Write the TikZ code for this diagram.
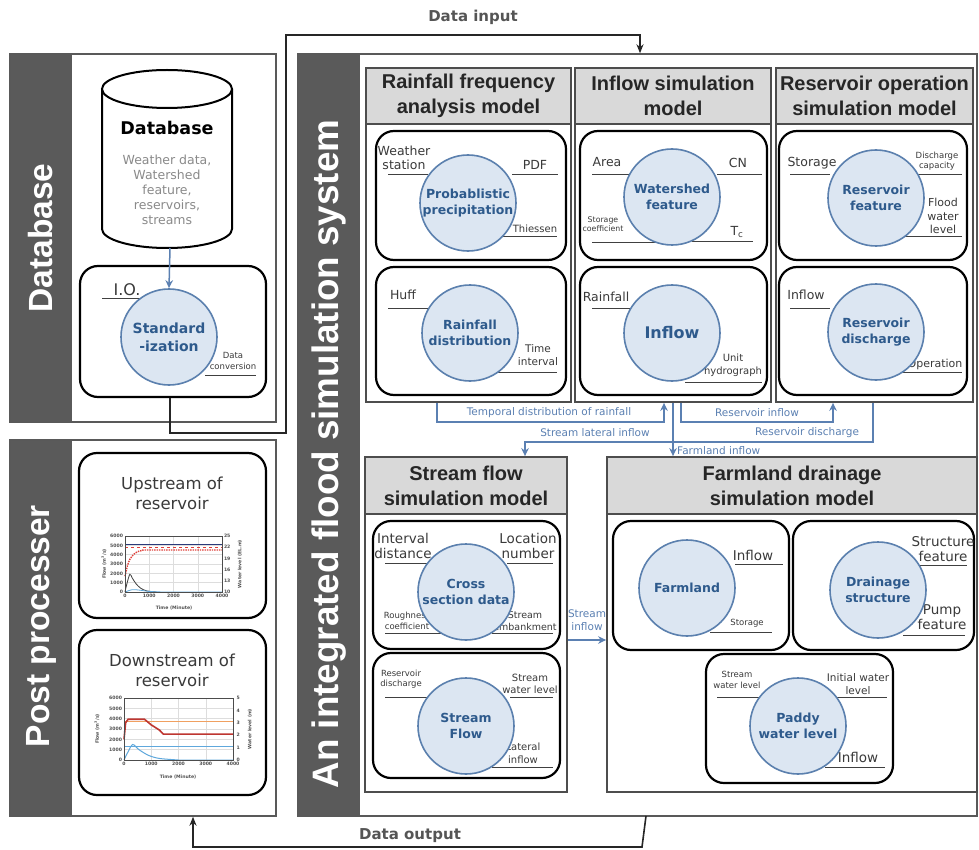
\documentclass[tikz,border=0pt]{standalone}
\usepackage{fontspec}
\setmainfont{Liberation Sans}
\newfontfamily\dv{DejaVu Sans}
\usetikzlibrary{arrows.meta,calc}
\definecolor{stripgray}{HTML}{5A5A5A}
\definecolor{panelline}{HTML}{595959}
\definecolor{coldark}{HTML}{4D4D4D}
\definecolor{hdrgray}{HTML}{D9D9D9}
\definecolor{hdrtext}{HTML}{262626}
\definecolor{circfill}{HTML}{DCE6F2}
\definecolor{circdraw}{HTML}{5B80AE}
\definecolor{circtext}{HTML}{2E5A8C}
\definecolor{labtext}{HTML}{3A3A3A}
\definecolor{ulcol}{HTML}{404040}
\definecolor{flowblue}{HTML}{5B80B2}
\definecolor{dataio}{HTML}{555555}
\definecolor{dbgray}{HTML}{8A8A8A}
\definecolor{tickcol}{HTML}{505050}
\definecolor{gridc}{HTML}{DDDDDD}
\definecolor{navyc}{HTML}{2B3A7A}
\definecolor{redc}{HTML}{E0403A}
\definecolor{lblue}{HTML}{5FA8DC}
\definecolor{orangec}{HTML}{F0A060}
\begin{document}
\begin{tikzpicture}[x=1pt,y=-1pt]
\tikzset{
 panel/.style={draw=panelline, line width=1.4pt, inner sep=0pt},
 colbox/.style={draw=coldark, line width=1.8pt, fill=white, inner sep=0pt},
 hdr/.style={draw=coldark, line width=1.8pt, fill=hdrgray, inner sep=0pt, align=center, text=hdrtext, font=\bfseries\fontsize{20}{25}\selectfont},
 rbox/.style={draw=black, line width=2.2pt, rounded corners=18pt, inner sep=0pt},
 circ/.style={circle, draw=circdraw, fill=circfill, line width=1.6pt, minimum size=96pt, inner sep=0pt, align=center, text=circtext, font=\dv\bfseries\fontsize{12.5}{15.5}\selectfont},
 circL/.style={circ, font=\dv\bfseries\fontsize{14}{18}\selectfont},
 lab/.style={align=center, text=labtext, inner sep=0pt, font=\dv\fontsize{12.5}{14.5}\selectfont},
 labm/.style={lab, font=\dv\fontsize{13.5}{15.5}\selectfont},
 labs/.style={lab, font=\dv\fontsize{10.5}{12.5}\selectfont},
 labt/.style={lab, font=\dv\fontsize{8.5}{10.5}\selectfont},
 ul/.style={draw=ulcol, line width=1pt},
 flow/.style={draw=flowblue, line width=1.8pt, -{Stealth[length=8pt,width=7.5pt]}},
 flowlab/.style={text=flowblue, inner sep=0pt, align=center, font=\dv\fontsize{10.5}{12.5}\selectfont},
 blk/.style={draw=black!85, line width=1.6pt, -{Stealth[length=9pt,width=7pt]}},
 vtitle/.style={rotate=90, text=white, inner sep=0pt, font=\bfseries\fontsize{33.5}{36}\selectfont},
 io/.style={text=dataio, inner sep=0pt, font=\dv\bfseries\fontsize{15}{18}\selectfont},
 tick/.style={text=tickcol, inner sep=0.3pt, font=\dv\bfseries\fontsize{4.6}{5}\selectfont},
 ptitle/.style={align=center, text=labtext, inner sep=0pt, font=\dv\fontsize{16.5}{20}\selectfont},
}
\useasboundingbox (0,0) rectangle (979,850);
\fill[white] (0,0) rectangle (979,850);

% ---------- left panels ----------
\fill[stripgray] (10,54) rectangle (72,422);
\node[panel, minimum width=266, minimum height=368] (dbp) at (143,238) {};
\node[vtitle] (tdb) at (41,238) {Database};

\fill[stripgray] (10,440) rectangle (72,816);
\node[panel, minimum width=266, minimum height=376] (ppp) at (143,628) {};
\node[vtitle] (tpp) at (41,626) {Post processer};

% ---------- main panel ----------
\fill[stripgray] (298,54) rectangle (360,816);
\node[panel, minimum width=679, minimum height=762] (mainp) at (637.5,435) {};
\node[vtitle, font=\bfseries\fontsize{36.8}{40}\selectfont] (tmain) at (329,454) {An integrated flood simulation system};

% ---------- database cylinder ----------
\draw[line width=2pt, fill=white] (102,89) -- (102,229)
  .. controls (102,239.5) and (131.1,248) .. (167,248)
  .. controls (202.9,248) and (232,239.5) .. (232,229) -- (232,89);
\draw[line width=2pt, fill=white] (167,89) ellipse [x radius=65, y radius=19];
\node[inner sep=0pt, font=\dv\bfseries\fontsize{17.5}{20}\selectfont] (dbt) at (167,128) {Database};
\node[inner sep=0pt, align=center, text=dbgray, font=\dv\fontsize{12.5}{15}\selectfont] (dbg) at (167,190) {Weather data,\\Watershed\\feature,\\reservoirs,\\streams};
\coordinate (dbbot) at (170,248);

% standardization box
\node[rbox, minimum width=186, minimum height=131] (iobox) at (173,331.5) {};
\node[lab, font=\dv\fontsize{16}{18}\selectfont] (lio) at (127,290) {I.O.};
\draw[ul] (102,298) -- (147,298);
\node[labt] (ldc) at (233,361) {Data\\conversion};
\draw[ul] (205,375) -- (256,375);
\node[circL] (std) at (169,337) {Standard\\-ization};
\draw[flow, line width=1.5pt] (dbbot) -- (std.north);

% post processor boxes
\node[rbox, minimum width=187, minimum height=165] (upb) at (172.5,535.5) {};
\node[ptitle] (upt) at (172,493) {Upstream of\\reservoir};
\node[rbox, minimum width=187, minimum height=165] (dnb) at (172.5,712.5) {};
\node[ptitle] (dnt) at (172,670) {Downstream of\\reservoir};

% upstream chart
\draw[gridc, line width=0.4pt] foreach \k in {1,...,5} {(125,{592-\k*56/6}) -- (222,{592-\k*56/6})}
  foreach \k in {1,2,3} {({125+\k*97/4},536) -- ({125+\k*97/4},592)};
\begin{scope}[shift={(125,592)}, xscale=0.02425, yscale=-0.0093333]
\draw[navyc, line width=0.9pt] (0,5050) -- (4000,5050);
\draw[redc, dashed, line width=0.9pt] (0,4800) -- (4000,4800);
\draw[redc, densely dotted, line width=1.4pt] plot[smooth] coordinates {(0,1700) (100,2800) (200,3500) (350,4000) (500,4300) (700,4450) (1000,4500) (4000,4500)};
\draw[black!75, line width=0.8pt] plot[smooth] coordinates {(0,0) (80,900) (200,1900) (300,1500) (450,900) (650,400) (900,120) (1300,0)};
\draw[lblue, line width=0.8pt] plot[smooth] coordinates {(0,0) (300,250) (600,200) (1000,60) (1600,0)} -- (4000,0);
\end{scope}
\draw[black!70, line width=0.6pt] (125,536) rectangle (222,592);
\foreach \k/\v in {0/0,1/1000,2/2000,3/3000,4/4000,5/5000,6/6000}
  \node[tick, anchor=east] (uyl\k) at (123.5,{592-\k*56/6}) {\v};
\foreach \k/\v in {0/10,1/13,2/16,3/19,4/22,5/25}
  \node[tick, anchor=west] (uyr\k) at (223.5,{592-\k*56/5}) {\v};
\foreach \k/\v in {0/0,1/1000,2/2000,3/3000,4/4000}
  \node[tick, anchor=north] (uxt\k) at ({125+\k*97/4},593.5) {\v};
\node[tick, rotate=90] (uya) at (104,564) {Flow (m\textsuperscript{3}/s)};
\node[tick, rotate=90] (uyb) at (240,564) {Water level (EL.m)};
\node[tick] (uxa) at (174,608) {Time (Minute)};

% downstream chart
\draw[gridc, line width=0.4pt] foreach \k in {1,...,5} {(124,{760-\k*62/6}) -- (233,{760-\k*62/6})}
  foreach \k in {1,2,3} {({124+\k*109/4},698) -- ({124+\k*109/4},760)};
\begin{scope}[shift={(124,760)}, xscale=0.02725, yscale=-0.0103333]
\draw[orangec, line width=0.5pt] (0,3800) -- (4000,3800);
\draw[lblue, line width=0.5pt] (0,1300) -- (4000,1300);
\draw[redc!85!black, line width=1.6pt] (0,2000) -- (60,3600) -- (150,3950) -- (750,3950) -- (1000,3400) -- (1300,2900) -- (1450,2500) -- (4000,2500);
\draw[lblue, line width=1pt] plot[smooth] coordinates {(0,0) (150,800) (320,1500) (550,1000) (900,450) (1300,150) (2000,0)} -- (4000,0);
\end{scope}
\draw[black!70, line width=0.6pt] (124,698) rectangle (233,760);
\foreach \k/\v in {0/0,1/1000,2/2000,3/3000,4/4000,5/5000,6/6000}
  \node[tick, anchor=east] (dyl\k) at (122.5,{760-\k*62/6}) {\v};
\foreach \k/\v in {0/0,1/1,2/2,3/3,4/4,5/5}
  \node[tick, anchor=west] (dyr\k) at (236,{760-\k*62/5}) {\v};
\foreach \k/\v in {0/0,1/1000,2/2000,3/3000,4/4000}
  \node[tick, anchor=north] (dxt\k) at ({124+\k*109/4},761.5) {\v};
\node[tick, rotate=90] (dya) at (97,729) {Flow (m\textsuperscript{3}/s)};
\node[tick, rotate=90] (dyb) at (250,729) {Water level (m)};
\node[tick] (dxa) at (178,777) {Time (Minute)};

% ---------- column boxes ----------
\node[colbox, minimum width=205, minimum height=334] (rfcol) at (468.5,235) {};
\node[hdr, minimum width=205, minimum height=56] (rfhdr) at (468.5,96) {Rainfall frequency\\analysis model};
\node[colbox, minimum width=196, minimum height=334] (ifcol) at (673,235) {};
\node[hdr, minimum width=196, minimum height=56] (ifhdr) at (673,96) {Inflow simulation\\model};
\node[colbox, minimum width=197, minimum height=334] (rocol) at (874.5,235) {};
\node[hdr, minimum width=197, minimum height=56] (rohdr) at (874.5,96) {Reservoir operation\\simulation model};
\node[colbox, minimum width=202, minimum height=335] (sfcol) at (466,624.5) {};
\node[hdr, minimum width=202, minimum height=57] (sfhdr) at (466,485.5) {Stream flow\\simulation model};
\node[colbox, minimum width=370, minimum height=335] (fdcol) at (792,624.5) {};
\node[hdr, minimum width=370, minimum height=57] (fdhdr) at (792,485.5) {Farmland drainage\\simulation model};

% ---------- rounded sub boxes ----------
\node[rbox, minimum width=190, minimum height=129] (rf1) at (471,195.5) {};
\node[rbox, minimum width=190, minimum height=128] (rf2) at (471,331) {};
\node[rbox, minimum width=187, minimum height=129] (if1) at (673.5,195.5) {};
\node[rbox, minimum width=187, minimum height=128] (if2) at (673.5,331) {};
\node[rbox, minimum width=188, minimum height=129] (ro1) at (873,195.5) {};
\node[rbox, minimum width=188, minimum height=128] (ro2) at (873,331) {};
\node[rbox, minimum width=187, minimum height=128] (sf1) at (466.5,585) {};
\node[rbox, minimum width=187, minimum height=125] (sf2) at (466.5,715.5) {};
\node[rbox, minimum width=176, minimum height=129] (fl1) at (701,585.5) {};
\node[rbox, minimum width=181, minimum height=129] (ds1) at (883.5,585.5) {};
\node[rbox, minimum width=187, minimum height=129] (pw1) at (799.5,718.5) {};

% ---------- labels and underlines ----------
% rainfall
\node[lab] (lws) at (404,158) {Weather\\station};  \draw[ul] (388,175) -- (428,175);
\node[lab] (lpdf) at (535,165) {PDF};             \draw[ul] (512,175) -- (558,175);
\node[labs, font=\dv\fontsize{10}{12}\selectfont] (lth) at (535,229) {Thiessen}; \draw[ul] (493,237) -- (557,237);
\node[lab] (lhuff) at (403,295) {Huff};           \draw[ul] (388,308) -- (428,308);
\node[labs] (lti) at (538,355) {Time\\interval};  \draw[ul] (493,372) -- (557,372);
% inflow
\node[lab] (lar) at (607,162) {Area};             \draw[ul] (592,175) -- (630,175);
\node[lab] (lcn) at (738,163) {CN};               \draw[ul] (717,175) -- (762,175);
\node[labt, font=\dv\fontsize{7.8}{9.5}\selectfont] (lsc) at (603,224) {Storage\\coefficient}; \draw[ul] (592,243) -- (655,243);
\node[lab] (ltc) at (737,232) {T\textsubscript{c}}; \draw[ul] (692,242) -- (753,242);
\node[lab] (lrain) at (606,297) {Rainfall};       \draw[ul] (592,308) -- (630,308);
\node[labs, font=\dv\fontsize{10}{12.5}\selectfont] (luh) at (733,365) {Unit\\hydrograph}; \draw[ul] (685,382) -- (762,382);
% reservoir
\node[lab] (lst) at (812,163) {Storage};          \draw[ul] (790,175) -- (830,175);
\node[labt] (ldcap) at (937,161) {Discharge\\capacity}; \draw[ul] (913,175) -- (962,175);
\node[labs, font=\dv\fontsize{11}{13.5}\selectfont] (lfwl) at (943,216) {Flood\\water\\level}; \draw[ul] (898,237) -- (962,237);
\node[lab] (lrin) at (806,295) {Inflow};          \draw[ul] (790,308) -- (830,308);
\node[labs, font=\dv\fontsize{11}{13}\selectfont] (lop) at (935,364) {Operation}; \draw[ul] (898,372) -- (962,372);
% stream
\node[labm] (lid) at (403,546) {Interval\\distance}; \draw[ul] (385,563) -- (427,563);
\node[labm] (lln) at (528,546) {Location\\number};   \draw[ul] (507,563) -- (553,563);
\node[labt] (lrc) at (407,621) {Roughness\\coefficient}; \draw[ul] (385,633) -- (447,633);
\node[labt, font=\dv\fontsize{9.5}{11.5}\selectfont] (lse) at (525,621) {Stream\\embankment}; \draw[ul] (492,633) -- (553,633);
\node[labt] (lrd) at (401,679) {Reservoir\\discharge}; \draw[ul] (385,697) -- (427,697);
\node[labs, font=\dv\fontsize{10}{12.5}\selectfont] (lswl) at (530,684) {Stream\\water level}; \draw[ul] (510,697) -- (553,697);
\node[labs, font=\dv\fontsize{10}{13}\selectfont] (lli) at (523,753) {Lateral\\inflow}; \draw[ul] (492,767) -- (553,767);
% farmland
\node[labm] (lfin) at (753,555) {Inflow};          \draw[ul] (735,564) -- (783,564);
\node[labt] (lfst) at (747,623) {Storage};         \draw[ul] (710,632) -- (772,632);
\node[labm] (lsf) at (943,549) {Structure\\feature}; \draw[ul] (920,565) -- (967,565);
\node[labm] (lpf) at (942,617) {Pump\\feature};    \draw[ul] (903,635) -- (965,635);
\node[labt] (lpswl) at (737,680) {Stream\\water level}; \draw[ul] (717,697) -- (760,697);
\node[labs] (liwl) at (858,684) {Initial water\\level}; \draw[ul] (833,697) -- (887,697);
\node[labm] (lpin) at (858,757) {Inflow};          \draw[ul] (825,767) -- (885,767);

% ---------- circles ----------
\node[circ] (pp) at (468,203) {Probablistic\\precipitation};
\node[circ] (rd) at (470,333) {Rainfall\\distribution};
\node[circ] (ws) at (672,197) {Watershed\\feature};
\node[circL, font=\dv\bfseries\fontsize{16}{18}\selectfont] (inf) at (672,333) {Inflow};
\node[circ] (rfe) at (876,198) {Reservoir\\feature};
\node[circ] (rdis) at (876,332) {Reservoir\\discharge};
\node[circ] (cs) at (466,592) {Cross\\section data};
\node[circ] (sfl) at (466,726) {Stream\\Flow};
\node[circ] (fl) at (687,588) {Farmland};
\node[circ] (dst) at (878,590) {Drainage\\structure};
\node[circ] (pwl) at (798,726) {Paddy\\water level};

% ---------- blue flow connectors ----------
\coordinate (tA) at (437,422); \coordinate (tB) at (664,422);
\draw[flow] (rfcol.south -| tA) -- (tA) -- (tB) -- (ifcol.south -| tB);
\node[flowlab] (ltd) at (549,413) {Temporal distribution of rainfall};
\coordinate (fA) at (673,430);
\draw[flow] (ifcol.south -| fA) -- (fdcol.north -| fA);
\node[flowlab, anchor=west] (lfi) at (677,451) {Farmland inflow};
\coordinate (rA) at (681,422); \coordinate (rB) at (833,422);
\draw[flow] (ifcol.south -| rA) -- (rA) -- (rB) -- (rocol.south -| rB);
\node[flowlab] (lri) at (757,413) {Reservoir inflow};
\coordinate (dA) at (873,442); \coordinate (dB) at (525,442);
\draw[flow] (rocol.south -| dA) -- (dA) -- (dB) -- (sfcol.north -| dB);
\node[flowlab] (lrdc) at (807,433) {Reservoir discharge};
\node[flowlab] (lsli) at (595,433) {Stream lateral inflow};
\coordinate (sI) at (590,640);
\draw[flow] (sfcol.east |- sI) -- (fdcol.west |- sI);
\node[flowlab] (lsin) at (587,620) {Stream\\inflow};

% ---------- data input / output ----------
\coordinate (di1) at (170,433); \coordinate (di2) at (286,433);
\coordinate (di3) at (286,35);  \coordinate (di4) at (640,35);
\draw[blk] (iobox.south -| di1) -- (di1) -- (di2) -- (di3) -- (di4) -- (mainp.north -| di4);
\node[io] (tdi) at (473,17) {Data input};
\coordinate (do0) at (646,816); \coordinate (do1) at (642,847); \coordinate (do2) at (193,847);
\draw[blk] (do0) -- (do1) -- (do2) -- (ppp.south -| do2);
\node[io] (tdo) at (410,836) {Data output};
\end{tikzpicture}
\end{document}
